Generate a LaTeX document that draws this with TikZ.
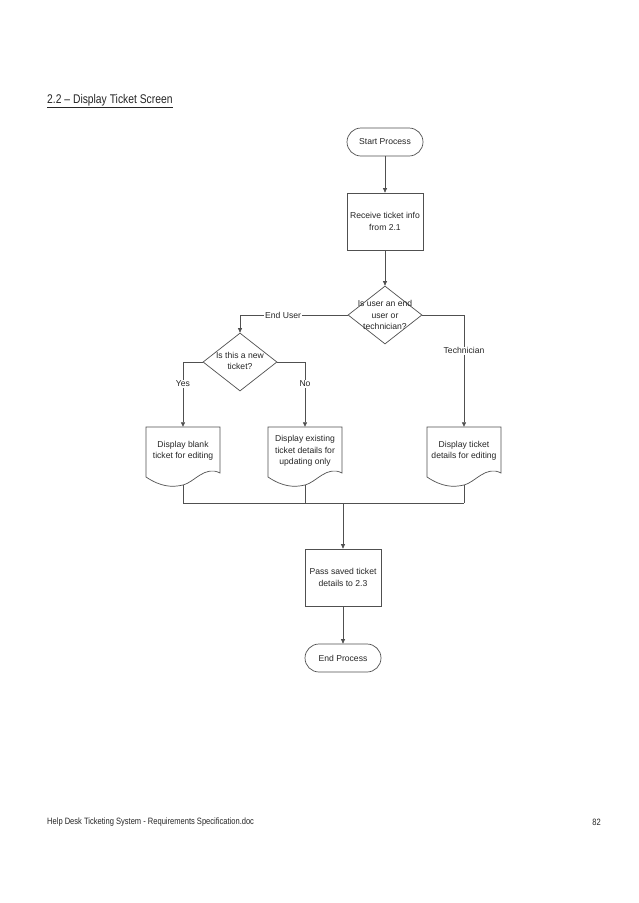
\documentclass[tikz,border=0pt]{standalone}
\usepackage{fontspec}
\setmainfont{Liberation Sans}
\newfontfamily\narrowfont[FakeStretch=0.82]{Liberation Sans}
\usetikzlibrary{arrows.meta,shapes.geometric}
\definecolor{linegray}{HTML}{505050}
\definecolor{txtgray}{HTML}{262626}
\newcommand\docoutline[1]{%
  \draw[outl, shift={(#1.center)}] (-37,-24) -- (37,-24) -- (37,22)
    .. controls (22,14) and (11,31.5) .. (0,34) coordinate (#1b)
    .. controls (-11,36.5) and (-22,36) .. (-37,26) -- cycle;}
\begin{document}
\begin{tikzpicture}[x=1pt,y=-1pt,
  outl/.style={draw=linegray, line width=0.7pt},
  dtext/.style={font=\fontsize{8.6}{11.3}\selectfont, text=txtgray, align=center},
  term/.style={outl, dtext, rounded corners=14pt, minimum width=76pt, minimum height=28pt, inner sep=0pt},
  proc/.style={outl, dtext, minimum width=76pt, minimum height=57pt, inner sep=0pt},
  decision/.style={outl, diamond, minimum width=74pt, minimum height=58pt, inner sep=0pt},
  doctext/.style={dtext, minimum width=74pt, minimum height=48pt, inner sep=0pt},
  conn/.style={draw=linegray, line width=0.7pt},
  arr/.style={conn, -{Triangle[length=4.5pt,width=4pt]}},
  lbl/.style={dtext, fill=white, inner sep=1pt}]
\useasboundingbox[fill=white] (0,0) rectangle (638,903);

% title and footer
\node[anchor=west, inner sep=0pt, font=\narrowfont\fontsize{12.6}{14}\selectfont, text=txtgray] (title) at (47,101) {\underline{2.2 – Display Ticket Screen}};
\node[anchor=west, inner sep=0pt, font=\narrowfont\fontsize{9.2}{11}\selectfont, text=txtgray] (foot) at (47,822) {Help Desk Ticketing System - Requirements Specification.doc};
\node[anchor=east, inner sep=0pt, font=\narrowfont\fontsize{9.2}{11}\selectfont, text=txtgray] (page) at (601,822) {82};

% nodes
\node[term] (start) at (385,142) {Start Process};
\node[proc] (recv) at (385,221.5) {Receive ticket info\\from 2.1};
\node[decision] (d1) at (385,315) {};
\node[dtext, inner sep=0pt] (d1t) at (d1.center) {Is user an end\\user or\\technician?};
\node[decision] (d2) at (240,362) {};
\node[dtext, inner sep=0pt] (d2t) at (240,361) {Is this a new\\ticket?};
\node[doctext] (doc1) at (183,451) {Display blank\\ticket for editing};
\node[doctext] (doc2) at (305,451) {Display existing\\ticket details for\\updating only};
\node[doctext] (doc3) at (464,451) {Display ticket\\details for editing};
\docoutline{doc1}
\docoutline{doc2}
\docoutline{doc3}
\coordinate (bus) at (343,503);
\node[proc] (pass) at (343,577.5) {Pass saved ticket\\details to 2.3};
\node[term] (stop) at (343,658) {End Process};

% connectors
\draw[arr] (start) -- (recv);
\draw[arr] (recv) -- (d1);
\draw[arr] (d1.west) -| node[lbl, pos=0.3] {End User} (d2.north);
\draw[arr] (d2.west) -| node[lbl, pos=0.67] {Yes} (doc1.north);
\draw[arr] (d2.east) -| node[lbl, pos=0.67] {No} (doc2.north);
\draw[arr] (d1.east) -| node[lbl, pos=0.66] {Technician} (doc3.north);
\draw[conn] (doc1b) -- (doc1b |- bus);
\draw[conn] (doc2b) -- (doc2b |- bus);
\draw[conn] (doc3b) -- (doc3b |- bus);
\draw[conn] (doc1b |- bus) -- (doc3b |- bus);
\draw[arr] (bus) -- (pass);
\draw[arr] (pass) -- (stop);
\end{tikzpicture}
\end{document}
